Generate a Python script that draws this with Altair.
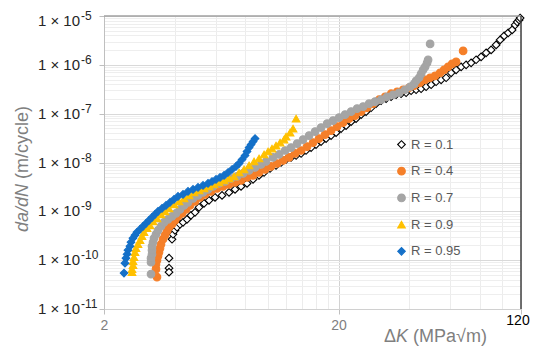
import altair as alt
import pandas as pd

# ---------------- data ----------------
series_names = ["R = 0.1", "R = 0.4", "R = 0.7", "R = 0.9", "R = 0.95"]

r01_dk = [3.787, 3.787, 3.787, 3.900, 3.938, 4.016, 4.096, 4.218, 4.345, 4.518,
          4.699, 4.888, 5.084, 5.340, 5.609, 5.949, 6.373, 6.826, 7.241, 7.680,
          8.147, 8.641, 9.165, 9.627, 10.21, 10.83, 11.38, 11.95, 12.55, 13.19,
          13.85, 14.54, 15.28, 16.04, 16.85, 17.70, 18.59, 19.53, 20.51, 21.54,
          22.63, 23.76, 24.97, 26.22, 27.54, 28.92, 30.38, 31.91, 33.51, 35.20,
          36.97, 38.84, 40.79, 42.84, 45.00, 47.27, 49.65, 52.14, 54.77, 57.53,
          60.43, 63.46, 66.66, 70.01, 73.53, 77.23, 81.12, 85.21, 89.49, 94.00,
          97.77, 101.7, 105.8, 110.0, 113.3, 115.6, 117.8, 119.0]
r01_dadn = [1.10e-10, 6.87e-11, 5.69e-11, 2.68e-10, 3.39e-10, 4.09e-10, 4.72e-10, 5.43e-10, 5.96e-10, 6.87e-10,
            8.29e-10, 9.54e-10, 1.21e-9, 1.46e-9, 1.68e-9, 1.93e-9, 2.12e-9, 2.44e-9, 2.81e-9, 3.24e-9,
            3.73e-9, 4.50e-9, 5.43e-9, 6.25e-9, 7.54e-9, 8.69e-9, 1.00e-8, 1.15e-8, 1.27e-8, 1.39e-8,
            1.53e-8, 1.76e-8, 2.02e-8, 2.33e-8, 2.68e-8, 3.09e-8, 3.56e-8, 4.09e-8, 4.94e-8, 5.69e-8,
            6.87e-8, 7.91e-8, 9.54e-8, 1.10e-7, 1.32e-7, 1.60e-7, 1.84e-7, 2.02e-7, 2.22e-7, 2.44e-7,
            2.56e-7, 2.68e-7, 2.95e-7, 3.09e-7, 3.24e-7, 3.56e-7, 3.91e-7, 4.50e-7, 4.94e-7, 5.43e-7,
            6.87e-7, 7.91e-7, 9.10e-7, 1.00e-6, 1.10e-6, 1.27e-6, 1.46e-6, 1.76e-6, 2.02e-6, 2.56e-6,
            3.24e-6, 3.91e-6, 4.50e-6, 5.18e-6, 6.55e-6, 7.54e-6, 8.29e-6, 9.10e-6]

r04_dk = [3.365, 3.333, 3.333, 3.365, 3.399, 3.432, 3.466, 3.500, 3.570, 3.641,
          3.713, 3.787, 3.900, 4.016, 4.136, 4.303, 4.475, 4.653, 4.888, 5.134,
          5.393, 5.720, 6.068, 6.436, 6.826, 7.241, 7.680, 8.147, 8.641, 9.165,
          9.722, 10.31, 10.94, 11.61, 12.31, 13.06, 13.85, 14.69, 15.58, 16.52,
          17.53, 18.59, 19.72, 20.91, 22.19, 23.53, 24.97, 26.48, 28.08, 29.79,
          31.60, 33.51, 35.55, 37.71, 40.00, 42.01, 44.56, 46.81, 49.16, 51.63,
          54.23, 56.41, 58.67, 61.02, 63.46, 67.98]
r04_dadn = [4.50e-11, 6.55e-11, 8.29e-11, 1.00e-10, 1.21e-10, 1.46e-10, 1.76e-10, 2.12e-10, 2.68e-10, 3.24e-10,
            3.91e-10, 4.72e-10, 5.43e-10, 6.55e-10, 7.91e-10, 9.10e-10, 1.10e-9, 1.32e-9, 1.60e-9, 1.93e-9,
            2.22e-9, 2.56e-9, 2.95e-9, 3.24e-9, 3.56e-9, 3.91e-9, 4.29e-9, 4.94e-9, 5.43e-9, 6.25e-9,
            7.20e-9, 8.29e-9, 9.54e-9, 1.10e-8, 1.27e-8, 1.53e-8, 1.76e-8, 2.12e-8, 2.56e-8, 3.09e-8,
            3.73e-8, 4.50e-8, 5.43e-8, 6.55e-8, 7.91e-8, 9.10e-8, 1.10e-7, 1.32e-7, 1.60e-7, 1.93e-7,
            2.22e-7, 2.56e-7, 2.81e-7, 3.09e-7, 3.39e-7, 3.73e-7, 4.29e-7, 4.94e-7, 5.43e-7, 5.96e-7,
            6.87e-7, 7.91e-7, 9.10e-7, 1.05e-6, 1.15e-6, 1.93e-6]

r07_dk = [3.173, 3.173, 3.173, 3.204, 3.204, 3.204, 3.236, 3.268, 3.333, 3.399,
          3.500, 3.605, 3.750, 3.900, 4.056, 4.218, 4.388, 4.563, 4.793, 5.034,
          5.288, 5.554, 5.833, 6.188, 6.563, 6.961, 7.385, 7.833, 8.308, 8.812,
          9.347, 9.818, 10.52, 11.16, 11.84, 12.55, 13.32, 14.12, 14.98, 15.89,
          16.85, 17.88, 18.96, 20.11, 21.33, 22.63, 24.00, 25.46, 27.00, 28.64,
          30.38, 32.22, 34.18, 36.25, 38.46, 40.39, 42.01, 42.84, 44.12, 45.00,
          45.90, 46.81, 47.73, 48.20, 49.16]
r07_dadn = [5.18e-11, 9.10e-11, 1.10e-10, 1.32e-10, 1.60e-10, 1.93e-10, 2.33e-10, 2.81e-10, 3.39e-10, 4.09e-10,
            4.94e-10, 5.96e-10, 6.87e-10, 7.91e-10, 9.10e-10, 1.10e-9, 1.32e-9, 1.53e-9, 1.84e-9, 2.12e-9,
            2.44e-9, 2.81e-9, 3.24e-9, 3.73e-9, 4.09e-9, 4.72e-9, 5.18e-9, 5.96e-9, 6.87e-9, 7.91e-9,
            9.10e-9, 1.05e-8, 1.27e-8, 1.46e-8, 1.76e-8, 2.02e-8, 2.44e-8, 2.95e-8, 3.56e-8, 4.29e-8,
            5.18e-8, 6.25e-8, 7.20e-8, 8.29e-8, 9.54e-8, 1.10e-7, 1.27e-7, 1.39e-7, 1.60e-7, 1.76e-7,
            1.93e-7, 2.22e-7, 2.44e-7, 2.68e-7, 3.09e-7, 3.56e-7, 4.09e-7, 4.72e-7, 5.43e-7, 6.55e-7,
            7.91e-7, 9.10e-7, 1.10e-6, 1.27e-6, 2.68e-6]

r09_dk = [2.633, 2.633, 2.659, 2.659, 2.685, 2.711, 2.738, 2.792, 2.848, 2.904,
          2.962, 3.051, 3.141, 3.236, 3.365, 3.500, 3.641, 3.787, 3.977, 4.177,
          4.388, 4.608, 4.840, 5.084, 5.340, 5.609, 5.891, 6.188, 6.499, 6.826,
          7.170, 7.531, 7.910, 8.308, 8.726, 9.165, 9.627, 10.01, 10.41, 10.83,
          11.27, 11.72, 11.95, 12.43, 12.80, 13.19]
r09_dadn = [5.69e-11, 6.55e-11, 7.91e-11, 9.54e-11, 1.15e-10, 1.46e-10, 1.76e-10, 2.12e-10, 2.56e-10, 3.09e-10,
            3.73e-10, 4.50e-10, 5.18e-10, 6.25e-10, 7.20e-10, 8.69e-10, 1.00e-9, 1.15e-9, 1.39e-9, 1.60e-9,
            1.84e-9, 2.12e-9, 2.44e-9, 2.68e-9, 2.95e-9, 3.24e-9, 3.56e-9, 3.91e-9, 4.29e-9, 4.72e-9,
            5.18e-9, 6.25e-9, 7.20e-9, 8.69e-9, 1.05e-8, 1.21e-8, 1.46e-8, 1.68e-8, 1.93e-8, 2.22e-8,
            2.56e-8, 2.95e-8, 3.39e-8, 4.09e-8, 4.94e-8, 7.91e-8]

r095_dk = [2.434, 2.458, 2.482, 2.507, 2.531, 2.581, 2.607, 2.658, 2.711, 2.765,
           2.848, 2.933, 3.021, 3.111, 3.204, 3.300, 3.399, 3.535, 3.676, 3.824,
           3.977, 4.136, 4.345, 4.563, 4.793, 5.034, 5.288, 5.554, 5.776, 6.007,
           6.249, 6.499, 6.759, 7.030, 7.311, 7.531, 7.756, 7.988, 8.147, 8.308,
           8.473, 8.641, 8.812]
r095_dadn = [5.43e-11, 8.69e-11, 1.10e-10, 1.32e-10, 1.60e-10, 1.93e-10, 2.33e-10, 2.81e-10, 3.24e-10, 3.73e-10,
             4.29e-10, 4.94e-10, 5.69e-10, 6.55e-10, 7.54e-10, 8.69e-10, 1.00e-9, 1.15e-9, 1.32e-9, 1.53e-9,
             1.76e-9, 2.02e-9, 2.22e-9, 2.56e-9, 2.81e-9, 3.09e-9, 3.39e-9, 3.73e-9, 4.09e-9, 4.50e-9,
             4.94e-9, 5.43e-9, 6.25e-9, 7.20e-9, 8.29e-9, 9.54e-9, 1.15e-8, 1.39e-8, 1.68e-8, 2.02e-8,
             2.33e-8, 2.68e-8, 3.09e-8]

x_grid_values = [2, 4, 6, 8, 10, 12, 14, 16, 18, 20, 40, 60, 80, 100, 120]
y_label_exponents = [-5, -6, -7, -8, -9, -10, -11]

# ---------------- styling ----------------
shapes = ["diamond", "circle", "circle", "triangle-up", "diamond"]
fills = ["white", "#F57F29", "#A5A5A5", "#FFC000", "#1470C8"]
strokes = ["#000000", "#F57F29", "#A5A5A5", "#FFC000", "#1470C8"]
FONT = "Liberation Sans"

frames = []
for name, k, d in zip(series_names,
                      [r01_dk, r04_dk, r07_dk, r09_dk, r095_dk],
                      [r01_dadn, r04_dadn, r07_dadn, r09_dadn, r095_dadn]):
    frames.append(pd.DataFrame({"K": k, "dadN": d, "R": name}))
df = pd.concat(frames, ignore_index=True)
df["idx"] = range(len(df))

y_grid_values = [m * 10.0 ** e for e in range(-11, -5) for m in range(1, 10)] + [1e-5]

xscale = alt.Scale(type="log", domain=[2, 120], nice=False)
yscale = alt.Scale(type="log", domain=[1e-11, 1e-5], nice=False)

major_y = "abs(log(datum.value)/LN10 - round(log(datum.value)/LN10)) < 0.001"
major_x = "datum.value == 2 || datum.value == 20 || datum.value == 120"

xaxis = alt.Axis(
    values=x_grid_values, title=None, grid=True,
    gridColor={"condition": {"test": "datum.value == 20", "value": "#d2d2d2"}, "value": "#ececec"},
    tickColor={"condition": {"test": major_x, "value": "#bfbfbf"}, "value": "transparent"},
    tickSize=5, domainColor="#d0d0d0",
    labelExpr="datum.value == 2 || datum.value == 20 ? format(datum.value, 'd') : ''",
    labelFontSize=14, labelColor="#7f7f7f", labelPadding=4, labelFlush=False,
    labelOverlap=False, labelFont=FONT,
)
yaxis = alt.Axis(
    values=y_grid_values, title=None, labels=False, grid=True,
    gridColor={"condition": {"test": major_y, "value": "#d9d9d9"}, "value": "#eeeeee"},
    tickColor={"condition": {"test": major_y, "value": "#bfbfbf"}, "value": "transparent"},
    tickSize=5, domainColor="#bfbfbf",
)

legend = alt.Legend(
    title=None, orient="none", legendX=291, legendY=122,
    labelFontSize=13, labelColor="#595959", labelFont=FONT,
    rowPadding=12.7, labelOffset=3, symbolSize=58, symbolStrokeWidth=1.1,
    symbolOpacity=1,
)

points = alt.Chart(df).mark_point(opacity=1, size=58, strokeWidth=1.1).encode(
    x=alt.X("K:Q", scale=xscale, axis=xaxis),
    y=alt.Y("dadN:Q", scale=yscale, axis=yaxis),
    shape=alt.Shape("R:N", scale=alt.Scale(domain=series_names, range=shapes), legend=legend),
    fill=alt.Fill("R:N", scale=alt.Scale(domain=series_names, range=fills), legend=legend),
    stroke=alt.Stroke("R:N", scale=alt.Scale(domain=series_names, range=strokes), legend=legend),
    order=alt.Order("idx:Q"),
)

top_rule = alt.Chart(pd.DataFrame({"v": [1e-5]})).mark_rule(color="#a0a0a0", strokeWidth=1.5).encode(
    y=alt.Y("v:Q", scale=yscale, axis=yaxis))
right_rule = alt.Chart(pd.DataFrame({"v": [120]})).mark_rule(color="#404040", strokeWidth=1.5).encode(
    x=alt.X("v:Q", scale=xscale, axis=xaxis))

ylab_df = pd.DataFrame({
    "v": [10.0 ** e for e in y_label_exponents],
    "base": ["1 × 10"] * len(y_label_exponents),
    "exp": [str(e) for e in y_label_exponents],
})
top_test = "datum.v > 5e-6"


def ylab_layer(field, align, size, xpos, dy, test):
    return alt.Chart(ylab_df).transform_filter(test).mark_text(
        align=align, baseline="middle", fontSize=size, font=FONT, color="#262626", dy=dy).encode(
        x=alt.value(xpos), y=alt.Y("v:Q", scale=yscale, axis=yaxis), text=f"{field}:N")


ylabs = [
    ylab_layer("base", "right", 15, -24, 0, "!(" + top_test + ")"),
    ylab_layer("exp", "left", 12, -23, -5, "!(" + top_test + ")"),
    ylab_layer("base", "right", 15, -24, 5, top_test),
    ylab_layer("exp", "left", 12, -23, 0, top_test),
]

x120 = alt.Chart(pd.DataFrame({"v": [120], "t": ["120"]})).mark_text(
    align="center", baseline="middle", fontSize=14, font=FONT, color="#000000", dx=-3).encode(
    x=alt.X("v:Q", scale=xscale, axis=xaxis), y=alt.value(305), text="t:N")


def txt(s, x, y, italic=False, angle=0):
    kw = dict(align="left", baseline="alphabetic", fontSize=18, font=FONT, color="#7f7f7f")
    if italic:
        kw["fontStyle"] = "italic"
    if angle:
        kw["angle"] = angle
        kw["baseline"] = "middle"
    return alt.Chart(pd.DataFrame({"t": [s]})).mark_text(**kw).encode(
        x=alt.value(x), y=alt.value(y), text="t:N")


xt = [txt("Δ", 280, 326), txt("K", 292, 326, italic=True), txt("(MPa√m)", 309, 326)]
yt = [txt("da/dN", -81, 216, italic=True, angle=270), txt("(m/cycle)", -81, 163, angle=270)]

chart = alt.layer(points, top_rule, right_rule, *ylabs, x120, *xt, *yt).properties(
    width=417, height=293,
    padding={"left": 96, "top": 8, "right": 21, "bottom": 45},
    autosize=alt.AutoSizeParams(type="none"),
    background="white",
).configure_view(stroke=None).configure(font=FONT)

chart.save("out.html", embed_options={"renderer": "svg", "actions": False})
